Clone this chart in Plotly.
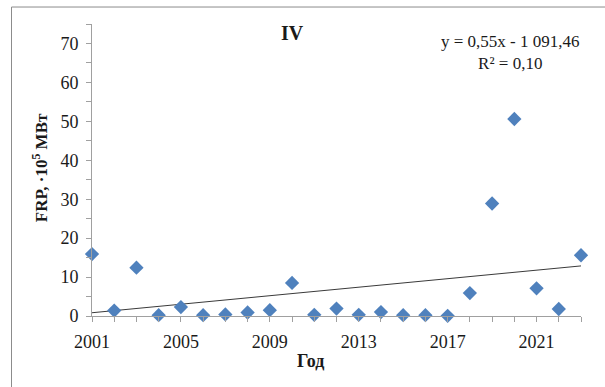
import numpy as np
import plotly.graph_objects as go

# Annual fire radiative power, region IV
years = list(range(2001, 2024))
frp = [15.9, 1.4, 12.4, 0.2, 2.3, 0.2, 0.4, 0.9, 1.5, 8.5, 0.3, 1.9,
       0.3, 1.0, 0.2, 0.2, 0.05, 5.9, 28.9, 50.6, 7.1, 1.8, 15.6]

equation_text = "y = 0,55x - 1 091,46<br>R² = 0,10"
panel_title = "IV"
x_title = "Год"
y_title = "FRP, ·10<sup>5</sup> МВт"

# Linear trend fitted to the series
slope, intercept = np.polyfit(years, frp, 1)
trend_x = [years[0], years[-1]]
trend_y = [slope * x + intercept for x in trend_x]

FONT = "Liberation Serif"
W, H = 605, 387
L, R, T, B = 92, 24, 23.5, 71
PW, PH = W - L - R, H - T - B


def px(x):
    return (x - L) / PW


def py(y):
    return (H - B - y) / PH


fig = go.Figure()
fig.add_trace(go.Scatter(
    x=trend_x, y=trend_y, mode="lines",
    line=dict(color="#3a3a3a", width=1), hoverinfo="skip", showlegend=False,
))
fig.add_trace(go.Scatter(
    x=years, y=frp, mode="markers",
    marker=dict(symbol="diamond", size=11, color="#4F81BD"),
    showlegend=False, cliponaxis=False,
))

axis_common = dict(
    showgrid=False, zeroline=False,
    showline=True, linecolor="#a0a0a0", linewidth=1,
    ticks="outside", ticklen=5, tickcolor="#a0a0a0",
    tickfont=dict(family=FONT, size=18, color="#1a1a1a"),
)

fig.update_layout(
    width=W, height=H,
    margin=dict(l=L, r=R, t=T, b=B, pad=0),
    paper_bgcolor="white", plot_bgcolor="white",
    font=dict(family=FONT, size=16, color="#1a1a1a"),
    xaxis=dict(
        range=[2001, 2023], tick0=2001, dtick=4, ticklabelstandoff=4,
        minor=dict(dtick=1, tick0=2001, ticks="outside", ticklen=5, tickcolor="#a0a0a0"),
        **axis_common,
    ),
    yaxis=dict(
        range=[0, 75], tickvals=list(range(0, 71, 10)), ticklabelstandoff=4,
        minor=dict(dtick=5, ticks="outside", ticklen=5, tickcolor="#a0a0a0"),
        **axis_common,
    ),
    shapes=[dict(
        type="rect", xref="paper", yref="paper",
        x0=px(11.5), x1=px(W + 10), y0=py(H + 10), y1=py(6.5),
        line=dict(color="#8c8c8c", width=1), fillcolor="rgba(0,0,0,0)", layer="below",
    )],
    annotations=[
        dict(text=f"<b>{panel_title}</b>", xref="paper", yref="paper",
             x=px(292), y=py(33), xanchor="center", yanchor="middle",
             showarrow=False, font=dict(size=20)),
        dict(text=equation_text, xref="paper", yref="paper", align="center",
             x=px(510), y=py(52), xanchor="center", yanchor="middle",
             showarrow=False, font=dict(size=17)),
        dict(text=f"<b>{x_title}</b>", xref="paper", yref="paper",
             x=px(310), y=py(361), xanchor="center", yanchor="middle",
             showarrow=False, font=dict(size=18)),
        dict(text=f"<b>{y_title}</b>", xref="paper", yref="paper", textangle=-90,
             x=px(40), y=py(168), xanchor="center", yanchor="middle",
             showarrow=False, font=dict(size=17)),
    ],
)

fig.write_html("out.html")
